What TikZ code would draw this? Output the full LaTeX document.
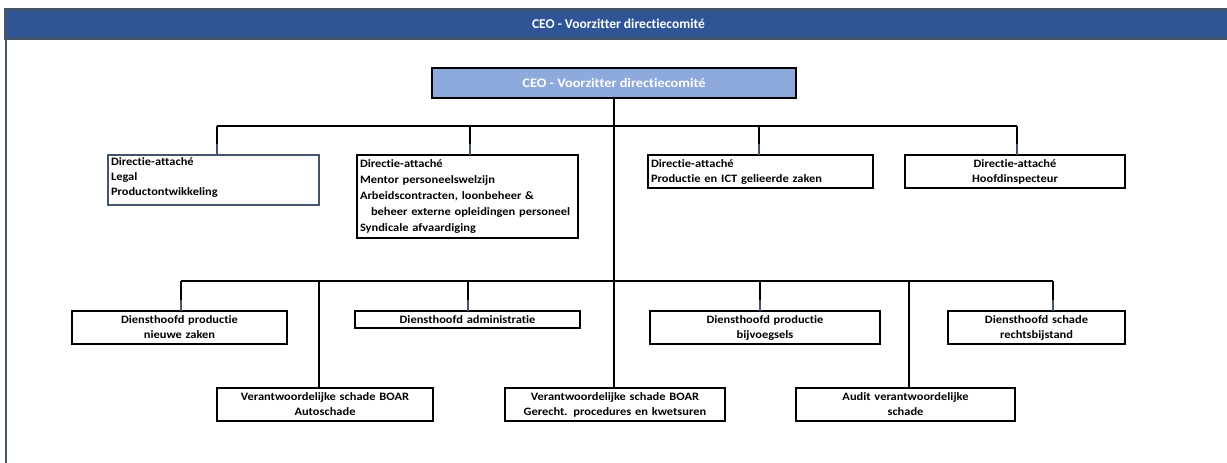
\documentclass[tikz,border=0pt]{standalone}
\usepackage{fontspec}
\setmainfont{Carlito}[Ligatures={NoCommon}]
\newfontfamily\boxfont{Carlito}[Ligatures={NoCommon}, FakeStretch=1.1]
\definecolor{hdrblue}{HTML}{2F5597}
\definecolor{slate}{HTML}{44546A}
\definecolor{ceoblue}{HTML}{8EA9DB}
\begin{document}
\begin{tikzpicture}[x=1pt,y=-1pt,
  conn/.style={line width=2pt, draw=black},
  stubend/.style={line width=2pt, draw=slate},
  bx/.style={draw=black, line width=2pt, fill=white, anchor=north west,
    inner xsep=3pt, inner ysep=0pt, outer sep=0pt,
    font=\boxfont\bfseries\fontsize{11.3}{15}\selectfont},
  lbx/.style={bx, align=left},
  cbx/.style={bx, align=center}
  ]
\useasboundingbox (0,0) rectangle (1227,463);
\fill[white] (0,0) rectangle (1227,463);
% header
\node[draw=slate, line width=2.5pt, fill=hdrblue, anchor=north west, minimum width=1226,
  minimum height=29, inner sep=0pt, outer sep=0pt, text=white,
  font=\bfseries\fontsize{13.5}{16}\selectfont] (hdr) at (5.5,9.5) {CEO - Voorzitter directiecomité};
\coordinate (lb) at (6,465);
\draw[slate, line width=2pt] (hdr.south west) -- (hdr.south west |- lb);
% CEO
\node[cbx, fill=ceoblue, text=white, minimum width=364, minimum height=30,
  font=\boxfont\bfseries\fontsize{13}{15}\selectfont] (ceo) at (432,68) {CEO - Voorzitter directiecomité};
% row 1
\node[bx, draw=slate, text width=205pt, minimum height=50] (b1) at (108,155)
  {\parbox[c][50pt][t]{205pt}{\raggedright\vspace{2.5pt}Directie-attaché\\Legal\\Productontwikkeling}};
\node[lbx, text width=215pt, minimum height=83, font=\boxfont\bfseries\fontsize{11.3}{16}\selectfont] (b2) at (357,155)
  {Directie-attaché\\Mentor personeelswelzijn\\Arbeidscontracten, loonbeheer \&\\\hspace*{11pt}beheer externe opleidingen personeel\\Syndicale afvaardiging};
\node[lbx, text width=219pt, minimum height=33] (b3) at (648,155)
  {Directie-attaché\\Productie en ICT gelieerde zaken};
\node[cbx, text width=214pt, minimum height=33] (b4) at (905,155)
  {Directie-attaché\\Hoofdinspecteur};
% row 2
\node[cbx, text width=209pt, minimum height=33] (b5) at (72,311)
  {Diensthoofd productie\\nieuwe zaken};
\node[cbx, text width=219pt, minimum height=17] (b6) at (355,311)
  {Diensthoofd administratie};
\node[cbx, text width=224pt, minimum height=33] (b7) at (650,311)
  {Diensthoofd productie\\bijvoegsels};
\node[cbx, text width=171pt, minimum height=33] (b8) at (948,311)
  {Diensthoofd schade\\rechtsbijstand};
% row 3
\node[cbx, text width=210pt, minimum height=33] (b9) at (217,388)
  {Verantwoordelijke schade BOAR\\Autoschade};
\node[cbx, text width=214pt, minimum height=33] (b10) at (505,388)
  {Verantwoordelijke schade BOAR\\Gerecht. procedures en kwetsuren};
\node[cbx, text width=213pt, minimum height=33] (b11) at (796,388)
  {Audit verantwoordelijke\\schade};
% bus coordinates
\coordinate (t1) at (217,126);
\coordinate (t2) at (470,126);
\coordinate (t3) at (759,126);
\coordinate (t4) at (1017,126);
\coordinate (m1) at (181,281);
\coordinate (m2) at (468,281);
\coordinate (m3) at (760,281);
\coordinate (m4) at (1053,281);
\coordinate (u1) at (319,281);
\coordinate (u3) at (909,281);
% trunk
\draw[conn] (ceo.south) -- (ceo.south |- b10.north);
% top bus and stubs
\draw[conn] (t1) -- (t4);
\foreach \t/\b in {t1/b1,t2/b2,t3/b3,t4/b4,m1/b5,m2/b6,m3/b7,m4/b8}{
  \draw[conn] (\t) -- ([yshift=11pt]\t |- \b.north);
  \draw[stubend] ([yshift=11pt]\t |- \b.north) -- (\t |- \b.north);
}
% middle bus
\draw[conn] (m1) -- (m4);
\draw[conn] (u1) -- (u1 |- b9.north);
\draw[conn] (u3) -- (u3 |- b11.north);
\end{tikzpicture}
\end{document}
